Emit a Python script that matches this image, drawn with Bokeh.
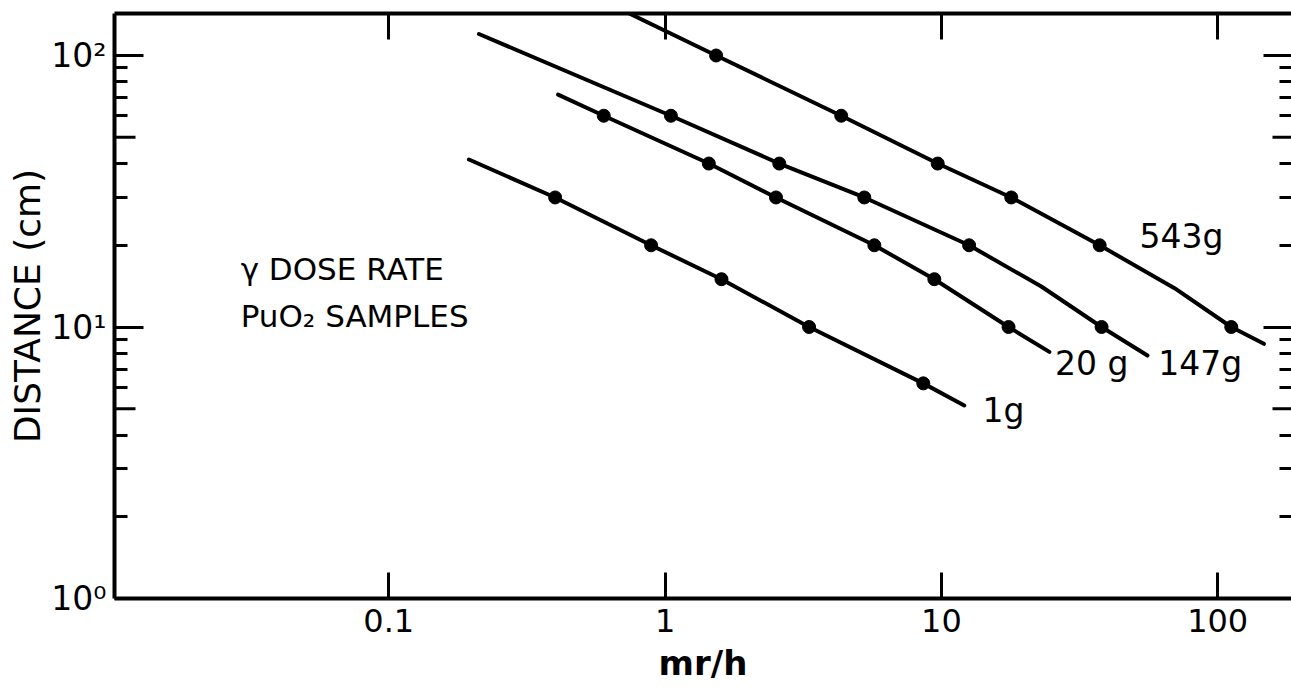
import numpy as np
from bokeh.plotting import figure
from bokeh.models import LogAxis, FixedTicker, Range1d
from bokeh.core.properties import value
from bokeh.embed import file_html
from bokeh.resources import INLINE

# ---------------- data ----------------
# measured points (dose rate mr/h, distance cm)
dose_1g = [0.40, 0.89, 1.60, 3.32, 8.6]
dist_1g = [30, 20, 15, 10, 6.2]
dose_20g = [0.60, 1.44, 2.52, 5.72, 9.43, 17.5]
dist_20g = [60, 40, 30, 20, 15, 10]
dose_147g = [1.05, 2.59, 5.26, 12.6, 38.0]
dist_147g = [60, 40, 30, 20, 10]
dose_543g = [1.53, 4.34, 9.7, 17.9, 37.4, 112]
dist_543g = [100, 60, 40, 30, 20, 10]

# hand-drawn curves through the points (as drawn)
curve_dose_1g = [0.195, 0.40, 0.89, 1.60, 3.32, 8.6, 12.1]
curve_dist_1g = [41.4, 30, 20, 15, 10, 6.2, 5.14]
curve_dose_20g = [0.41, 0.60, 1.44, 2.52, 5.72, 9.43, 17.5, 24.6]
curve_dist_20g = [71.8, 60, 40, 30, 20, 15, 10, 8.1]
curve_dose_147g = [0.212, 1.05, 2.59, 5.26, 12.6, 23.0, 38.0, 55.7]
curve_dist_147g = [120, 60, 40, 30, 20, 14.1, 10, 7.85]
curve_dose_543g = [0.70, 1.53, 4.34, 9.7, 17.9, 37.4, 69.8, 112, 147]
curve_dist_543g = [147, 100, 60, 40, 30, 20, 13.9, 10, 8.67]

series_labels = ["1g", "20 g", "147g", "543g"]

x_ticks = [0.1, 1, 10, 100]
x_tick_labels = ["0.1", "1", "10", "100"]
y_ticks = [1, 10, 100]
y_tick_labels = ["10\u2070", "10\u00b9", "10\u00b2"]
y_minor = [2, 3, 4, 6, 7, 8, 9, 20, 30, 40, 60, 70, 80, 90]
y_mid = [5, 50]

note_lines = ["\u03b3 DOSE RATE", "PuO\u2082 SAMPLES"]

# ---------------- layout / style ----------------
FONT = "DejaVu Sans"
x_lo, x_hi = 0.01017, 185.0
y_lo, y_hi = 1.0, 142.8

p = figure(width=1291, height=689,
           x_axis_type="log", y_axis_type="log",
           x_range=Range1d(x_lo, x_hi), y_range=Range1d(y_lo, y_hi),
           output_backend="svg", toolbar_location=None,
           min_border_left=114, min_border_right=0,
           min_border_top=13, min_border_bottom=91)
p.xgrid.visible = False
p.ygrid.visible = False
p.outline_line_color = None
p.background_fill_color = "white"
p.border_fill_color = "white"

xt = FixedTicker(ticks=x_ticks, minor_ticks=[])
yt = FixedTicker(ticks=y_ticks, minor_ticks=y_minor)

xa = p.xaxis[0]
xa.ticker = xt
xa.major_label_overrides = {t: l for t, l in zip(x_ticks, x_tick_labels)}
xa.major_tick_in = 26
xa.major_tick_out = 0
xa.minor_tick_line_color = None
xa.axis_line_width = 4
xa.major_tick_line_width = 3
xa.major_label_text_font = FONT
xa.major_label_text_font_size = "32px"
xa.major_label_text_color = "black"
xa.major_label_standoff = 10
xa.axis_label = "mr/h"
xa.axis_label_text_font = FONT
xa.axis_label_text_font_size = "34px"
xa.axis_label_text_font_style = "bold"
xa.axis_label_text_color = "black"
xa.axis_label_standoff = 8

ya = p.yaxis[0]
ya.ticker = yt
ya.major_label_overrides = {t: l for t, l in zip(y_ticks, y_tick_labels)}
ya.major_tick_in = 29
ya.major_tick_out = 0
ya.minor_tick_in = 13
ya.minor_tick_out = 0
ya.axis_line_width = 4
ya.major_tick_line_width = 3
ya.minor_tick_line_width = 3
ya.major_label_text_font = FONT
ya.major_label_text_font_size = "33px"
ya.major_label_text_color = "black"
ya.major_label_standoff = 8
ya.axis_label = "DISTANCE (cm)"
ya.axis_label_text_font = FONT
ya.axis_label_text_font_size = "36px"
ya.axis_label_text_font_style = "normal"
ya.axis_label_text_color = "black"
ya.axis_label_standoff = 0

top = LogAxis(ticker=xt, major_tick_in=26, major_tick_out=0,
              minor_tick_line_color=None, axis_line_width=4,
              major_tick_line_width=3, major_label_text_font_size="1px",
              major_label_text_alpha=0, major_label_standoff=0)
p.add_layout(top, "above")

right = LogAxis(ticker=yt, major_tick_in=28, major_tick_out=0,
                minor_tick_in=12, minor_tick_out=0, axis_line_color=None,
                major_tick_line_width=3, minor_tick_line_width=3,
                major_label_text_font_size="1px", major_label_text_alpha=0,
                major_label_standoff=0)
p.add_layout(right, "right")

# longer mid-decade ticks (5, 50) on both sides
p.ray(x=[x_lo] * len(y_mid), y=y_mid, length=21, length_units="screen",
      angle=0, line_width=3, color="black")
p.ray(x=[x_hi] * len(y_mid), y=y_mid, length=19, length_units="screen",
      angle=np.pi, line_width=3, color="black")

curves = [(curve_dose_1g, curve_dist_1g), (curve_dose_20g, curve_dist_20g),
          (curve_dose_147g, curve_dist_147g), (curve_dose_543g, curve_dist_543g)]
points = [(dose_1g, dist_1g), (dose_20g, dist_20g),
          (dose_147g, dist_147g), (dose_543g, dist_543g)]

for cx, cy in curves:
    p.line(cx, cy, line_width=4, color="black", line_cap="round",
           line_join="round")
for px_, py_ in points:
    p.scatter(px_, py_, size=13, color="black")

# series labels (left edge / baseline, in data space)
label_x = [14.1, 25.8, 61.0, 52.1]
label_y = [4.92, 7.33, 7.33, 21.5]
p.text(x=label_x, y=label_y, text=series_labels, text_font=value(FONT),
       text_font_size="33px", text_baseline="alphabetic", text_align="left",
       text_color="black")

# annotation block
p.text(x=[0.0291, 0.0291], y=[16.4, 11.0], text=note_lines,
       text_font=value(FONT), text_font_size="31px",
       text_baseline="alphabetic", text_align="left", text_color="black")

open("out.html", "w").write(file_html(p, INLINE))
